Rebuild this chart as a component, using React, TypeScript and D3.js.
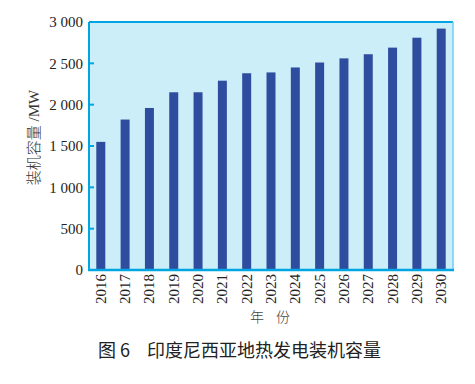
import React from "react";
import * as d3 from "d3";

// DATA
const years = [
  "2016", "2017", "2018", "2019", "2020", "2021", "2022", "2023",
  "2024", "2025", "2026", "2027", "2028", "2029", "2030",
];
const capacity = [
  1550, 1820, 1960, 2150, 2150, 2290, 2380, 2390,
  2450, 2510, 2560, 2610, 2690, 2810, 2920,
];
const yTicks = [0, 500, 1000, 1500, 2000, 2500, 3000];

const SERIF = "Liberation Serif";
const CJK = "Noto Sans CJK SC";

// WIDTH, HEIGHT & MARGIN
const margin = { top: 22, right: 22, bottom: 114, left: 89 };
const width = 475 - margin.left - margin.right;
const height = 384 - margin.top - margin.bottom;

const xScale = d3
  .scaleBand()
  .domain(years)
  .range([0, width])
  .paddingInner(0.63)
  .paddingOuter(0.3);
const yScale = d3.scaleLinear().domain([0, 3000]).range([height, 0]);

const fmt = (d: number) => (d >= 1000 ? d3.format(",")(d).replace(",", " ") : String(d));

export default function App() {
  return (
    <svg width={475} height={384} style={{ position: "absolute", left: 0, top: 0 }}>
      <g transform={`translate(${margin.left},${margin.top})`}>
        {/* BACKGROUND */}
        <rect width={width} height={height} fill="#cceef9" />

        {/* BARS */}
        {capacity.map((d, i) => (
          <rect
            key={years[i]}
            x={xScale(years[i])}
            width={xScale.bandwidth()}
            y={yScale(d)}
            height={height - yScale(d)}
            fill="#2f4d9f"
          />
        ))}

        {/* FRAME */}
        <line x1={0} x2={width} y1={0} y2={0} stroke="#00a6e2" strokeWidth={2} />
        <line x1={width} x2={width} y1={0} y2={height} stroke="#6cd0f0" strokeWidth={1.5} />
        <line x1={0} x2={0} y1={0} y2={height} stroke="#00a6e2" strokeWidth={2} />
        <line x1={-1} x2={width + 1} y1={height} y2={height} stroke="#00a6e2" strokeWidth={2.5} />

        {/* Y AXIS */}
        {yTicks.map((t) => (
          <g key={t} transform={`translate(0,${yScale(t)})`}>
            <line x1={0} x2={5} stroke="#00a6e2" strokeWidth={2} />
            <text
              x={-6}
              dy="0.35em"
              textAnchor="end"
              fill="#222"
              style={{ fontFamily: SERIF, fontSize: 15 }}
            >
              {fmt(t)}
            </text>
          </g>
        ))}

        {/* X AXIS */}
        {years.map((y) => (
          <text
            key={y}
            transform={`translate(${(xScale(y) as number) + xScale.bandwidth() / 2},${height + 4}) rotate(-90)`}
            dy="0.33em"
            textAnchor="end"
            fill="#222"
            style={{ fontFamily: SERIF, fontSize: 15 }}
          >
            {y}
          </text>
        ))}
      </g>

      {/* AXIS TITLES */}
      <text
        transform="translate(39,137.5) rotate(-90)"
        textAnchor="middle"
        fill="#333"
        style={{ fontFamily: `${SERIF}, ${CJK}`, fontSize: 15, fontWeight: 300 }}
      >
        装机容量 /MW
      </text>

      <text y={322} fill="#444" style={{ fontFamily: CJK, fontSize: 14, fontWeight: 300 }}>
        <tspan x={250}>年</tspan>
        <tspan x={276}>份</tspan>
      </text>

      <text y={357} fill="#222" style={{ fontFamily: CJK, fontSize: 18, fontWeight: 400 }}>
        <tspan x={98}>图 6</tspan>
        <tspan x={147}>印度尼西亚地热发电装机容量</tspan>
      </text>
    </svg>
  );
}
